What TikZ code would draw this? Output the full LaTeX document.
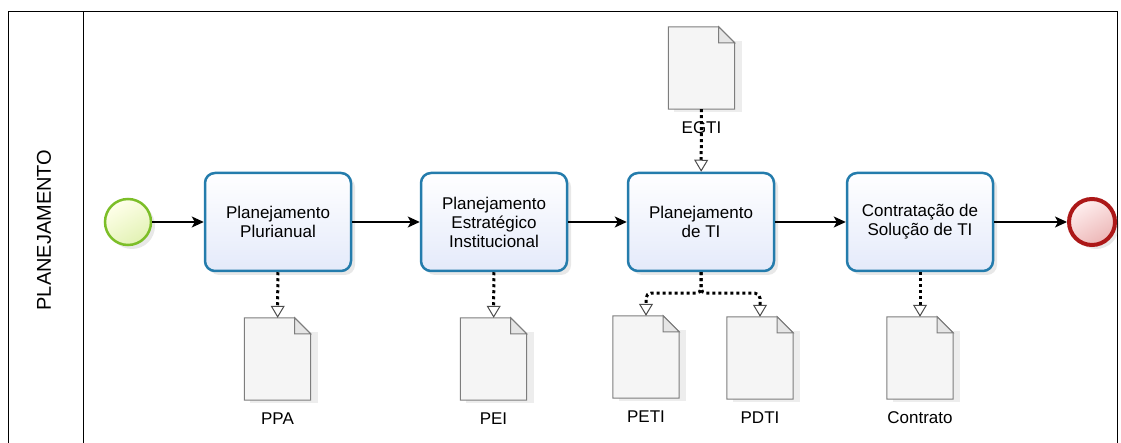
\documentclass[tikz,border=0pt]{standalone}
\usepackage{fontspec}
\setmainfont{Liberation Sans}
\usetikzlibrary{arrows.meta, positioning, shadows}

\definecolor{taskline}{RGB}{36,124,172}
\definecolor{taskfill}{RGB}{228,234,250}
\definecolor{startline}{RGB}{124,190,40}
\definecolor{startfill}{RGB}{226,242,180}
\definecolor{endline}{RGB}{172,24,24}
\definecolor{endfill}{RGB}{236,182,182}
\definecolor{docline}{RGB}{125,125,125}

\begin{document}
\begin{tikzpicture}
        [
            x = 1pt, y = -1pt,
            every node/.style = {font = \fontsize{17}{19}\selectfont},
            task/.style = {draw = taskline, line width = 2.5pt, rectangle, rounded corners = 10pt, align = center, inner sep = 0pt, minimum width = 146pt, minimum height = 98pt, top color = white, bottom color = taskfill, drop shadow = {opacity = 0.18, shadow xshift = 4pt, shadow yshift = -4pt}},
            start/.style = {draw = startline, line width = 2.5pt, circle, minimum size = 46pt, inner sep = 0pt, top color = white!60!yellow!20, bottom color = startfill, shading angle = 30, drop shadow = {opacity = 0.18, shadow xshift = 4pt, shadow yshift = -4pt}},
            stop/.style = {draw = endline, line width = 4pt, circle, minimum size = 46pt, inner sep = 0pt, top color = red!6, bottom color = endfill, shading angle = 30, drop shadow = {opacity = 0.18, shadow xshift = 4pt, shadow yshift = -4pt}},
            doc/.style = {rectangle, draw = none, inner sep = 0pt, minimum width = 66pt, minimum height = 82pt},
            doclabel/.style = {inner sep = 0pt, below = 12pt of #1},
            flow/.style = {line width = 1.2pt, -{Stealth[length = 12pt, width = 11pt, inset = 3pt]}},
            assoc/.style = {line width = 3pt, dash pattern = on 3pt off 3pt, draw = black, -{Triangle[length = 12pt, width = 14pt, line width = 1pt, fill = white, color = black!70]}}
        ]
        \useasboundingbox (0,0) rectangle (1121,443);

        % pool and lane
        \draw[line width = 1pt] (8,443) -- (8,12) -- (1117,12) -- (1117,443);
        \draw[line width = 1pt] (83,12) -- (83,443);
        \node[rotate = 90, font = \fontsize{20}{22}\selectfont] (lane) at (44,230) {PLANEJAMENTO};

        \node[start] (inicio) at (128,222) {};
        \node[task] (ppa task) at (278,222) {Planejamento\\Plurianual};
        \node[task] (pei task) at (494,222) {Planejamento\\Estratégico\\Institucional};
        \node[task] (pti task) at (701,222) {Planejamento\\de TI};
        \node[task] (cti task) at (920,222) {Contratação de\\Solução de TI};
        \node[stop] (fim) at (1092,222) {};

        \draw[flow] (inicio) -- (ppa task);
        \draw[flow] (ppa task) -- (pei task);
        \draw[flow] (pei task) -- (pti task);
        \draw[flow] (pti task) -- (cti task);
        \draw[flow] (cti task) -- (fim);

        \node[doc] (egti) at (701.5,68) {};
        \node[doc] (ppa) at (277.5,359) {};
        \node[doc] (pei) at (493.5,359) {};
        \node[doc] (peti) at (646,357) {};
        \node[doc] (pdti) at (760,358) {};
        \node[doc] (contrato) at (920,358) {};

        \foreach \d in {egti, ppa, pei, peti, pdti, contrato}
        {
            \fill[black, opacity = 0.07] ([shift = {(6,14)}]\d.north west) rectangle ([shift = {(7,3)}]\d.south east);
            \filldraw[draw = docline, line width = 1pt, fill = black!4] (\d.south west) -- (\d.north west) -- ([xshift = -16pt]\d.north east) -- ([yshift = -16pt]\d.north east) -- (\d.south east) -- cycle;
            \filldraw[draw = docline, line width = 1pt, fill = black!10] ([xshift = -16pt]\d.north east) |- ([yshift = -16pt]\d.north east) -- cycle;
        }

        \draw[assoc] (egti) -- (pti task);
        \draw[assoc] (ppa task) -- (ppa);
        \draw[assoc] (pei task) -- (pei);
        \draw[assoc, rounded corners = 5pt] (pti task.south) -- ++(0,21) -| (peti);
        \draw[assoc, rounded corners = 5pt] (pti task.south) -- ++(0,21) -| (pdti);
        \draw[assoc] (cti task) -- (contrato);

        \node[doclabel = egti] (egti label) {EGTI};
        \node[doclabel = ppa] (ppa label) {PPA};
        \node[doclabel = pei] (pei label) {PEI};
        \node[doclabel = peti] (peti label) {PETI};
        \node[doclabel = pdti] (pdti label) {PDTI};
        \node[doclabel = contrato] (contrato label) {Contrato};
    \end{tikzpicture}
\end{document}
